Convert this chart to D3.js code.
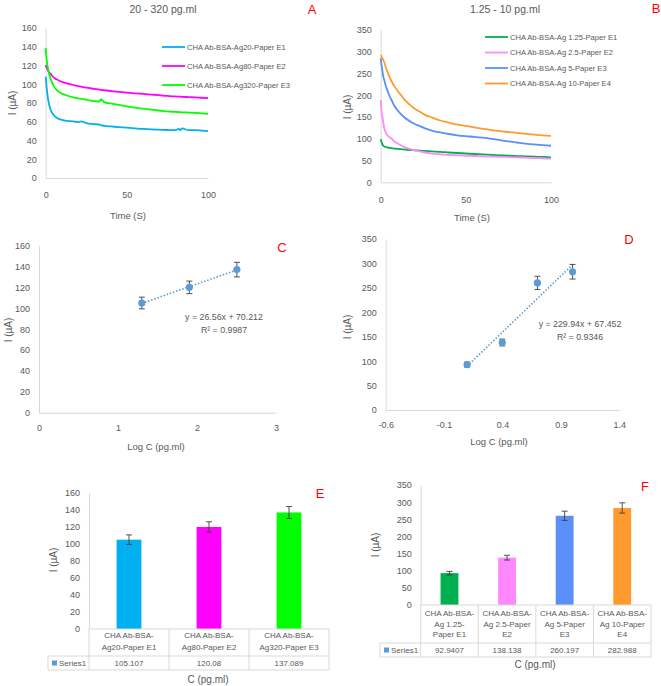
<!DOCTYPE html>
<html>
<head>
<meta charset="utf-8">
<script src="https://cdn.jsdelivr.net/npm/d3@7"></script>
<style>
  body { margin: 0; background: #fff; }
  svg text { font-family: "Liberation Sans", Arial, sans-serif; }
</style>
</head>
<body>
<div id="chart"></div>
<script>
// ---- panel A : current vs time, 20 - 320 pg.ml ----
const timeA = [0, 0.5, 1, 2, 3, 5, 7, 10, 13, 17, 20, 22, 25, 30, 33, 34, 36, 40, 45, 50, 55, 60, 65, 70, 75, 80, 82, 83, 84, 88, 92, 96, 100];
const aE1 = [108, 98, 90, 79, 73, 67, 64, 62, 61, 60.5, 59.5, 60.5, 58.5, 57.5, 57, 56.5, 55.5, 55, 54.3, 53.7, 53, 52.3, 51.8, 51.5, 51.2, 51, 52.3, 51, 53, 51, 51, 50.5, 50];
const aE2 = [120.5, 118, 116, 113, 111, 107, 105, 102.5, 101, 99.2, 98, 97.3, 96.3, 95, 94.2, 94, 93.6, 92.8, 91.8, 91, 90.3, 89.7, 89, 88.3, 87.5, 87, 86.8, 86.7, 86.6, 86.3, 86, 85.6, 85.3];
const aE3 = [138.5, 128, 121, 112, 106, 98, 93.5, 90, 88, 86, 85, 84.5, 83.5, 82, 81.5, 84, 81, 79.5, 78, 76.5, 75, 74, 73, 72, 71, 70.5, 70.3, 70.2, 70.1, 69.8, 69.5, 69, 68.5];
const namesA = ["CHA Ab-BSA-Ag20-Paper E1", "CHA Ab-BSA-Ag80-Paper E2", "CHA Ab-BSA-Ag320-Paper E3"];
const colorsA = ["#00B0F0", "#FF00FF", "#00FF00"];

// ---- panel B : current vs time, 1.25 - 10 pg.ml ----
const timeB = [0, 0.5, 1, 1.5, 2, 3, 4, 5, 6.5, 8, 10, 12, 14, 16, 18, 20, 23, 26, 30, 35, 40, 45, 50, 55, 60, 65, 70, 75, 80, 85, 90, 95, 100];
const bE1 = [98.8, 92, 87, 84, 82.5, 81, 80, 79, 78.3, 77.5, 76.8, 76, 75.3, 74.5, 74, 73.5, 72.8, 72, 71, 70, 68.5, 67.3, 66.2, 65, 64, 63, 62, 61, 60.3, 59.5, 58.8, 58.2, 57.5];
const bE2 = [189, 162, 151, 138, 126, 114, 108, 104, 100, 94, 89, 84.5, 81, 78, 75.5, 73.5, 71, 68.5, 66, 64.3, 63, 62, 61, 60.4, 59.8, 59.2, 58.6, 58, 57.4, 56.6, 55.8, 55, 54.2];
const bE3 = [285, 270, 256, 243, 236, 222, 210, 200, 188, 176, 165, 156, 149, 143, 138, 134, 129, 124, 119, 114.5, 111, 108, 106, 104.5, 102.5, 100, 97, 94, 91.5, 89, 87, 85.5, 84];
const bE4 = [292.5, 289, 285, 281, 277, 264, 254, 244, 231, 221, 210, 200, 190, 182, 175, 169, 162, 155, 149, 142, 137, 132.5, 129.5, 126, 123, 120, 117.5, 115.5, 113.5, 111.5, 109.5, 108, 106.5];
const namesB = ["CHA Ab-BSA-Ag 1.25-Paper E1", "CHA Ab-BSA-Ag 2.5-Paper E2", "CHA Ab-BSA-Ag 5-Paper E3", "CHA Ab-BSA-Ag 10-Paper E4"];
const colorsB = ["#00B050", "#FF88FF", "#5B8FF9", "#FF9A2E"];

// ---- panels C / E : calibration 20 - 320 ----
const logC_C = [1.301, 1.903, 2.505];
const mean_C = [105.107, 120.08, 137.089];
const err_C = [5.6, 6, 7];
const fitC = { m: 26.56, b: 70.212, eq: "y = 26.56x + 70.212", r2: "R² = 0.9987" };
const catsE = [["CHA Ab-BSA-", "Ag20-Paper E1"], ["CHA Ab-BSA-", "Ag80-Paper E2"], ["CHA Ab-BSA-", "Ag320-Paper E3"]];

// ---- panels D / F : calibration 1.25 - 10 ----
const logC_D = [0.097, 0.398, 0.699, 1.0];
const mean_D = [92.9407, 138.138, 260.197, 282.988];
const err_D = [5, 7, 13.5, 15];
const fitD = { m: 229.94, b: 67.452, eq: "y = 229.94x + 67.452", r2: "R² = 0.9346" };
const catsF = [["CHA Ab-BSA-", "Ag 1.25-", "Paper E1"], ["CHA Ab-BSA-", "Ag 2.5-Paper", "E2"], ["CHA Ab-BSA-", "Ag 5-Paper", "E3"], ["CHA Ab-BSA-", "Ag 10-Paper", "E4"]];

const ticksC_x = [0, 1, 2, 3];
const ticksD_x = [-0.6, -0.1, 0.4, 0.9, 1.4];

const txt = "#595959", lineCol = "#D9D9D9", ptCol = "#5B9BD5", errCol = "#404040";

const svg = d3.select("#chart").append("svg")
  .attr("width", 661).attr("height", 686);

function label(x, y, s, size, opts = {}) {
  const t = svg.append("text")
    .attr("x", x).attr("y", y)
    .attr("text-anchor", opts.anchor || "middle")
    .attr("dominant-baseline", "central")
    .attr("font-size", size)
    .attr("fill", opts.fill || txt)
    .text(s);
  if (opts.rotate) t.attr("transform", `rotate(-90, ${x}, ${y})`);
  return t;
}

function axes(x, y, xTicks, yTicks, xPad, xFmt) {
  const gy = svg.append("g")
    .attr("transform", `translate(${x.range()[0]},0)`)
    .call(d3.axisLeft(y).tickValues(yTicks).tickSize(0).tickPadding(9));
  gy.select(".domain").attr("stroke", lineCol);
  gy.selectAll("text").attr("fill", txt).attr("font-size", 9);
  if (xTicks) {
    const gx = svg.append("g")
      .attr("transform", `translate(0,${y.range()[0]})`)
      .call(d3.axisBottom(x).tickValues(xTicks).tickSize(0).tickPadding(xPad).tickFormat(xFmt || (d => String(d))));
    gx.select(".domain").attr("stroke", lineCol);
    gx.selectAll("text").attr("fill", txt).attr("font-size", 9);
  }
}

// ---------- A ----------
{
  const x = d3.scaleLinear().domain([0, 100]).range([45.7, 208]);
  const y = d3.scaleLinear().domain([0, 160]).range([178, 28]);
  axes(x, y, [0, 50, 100], d3.range(0, 161, 20), 14);
  const line = d3.line().x((d, i) => x(timeA[i])).y(d => y(d)).curve(d3.curveMonotoneX);
  [aE1, aE2, aE3].forEach((s, i) => {
    svg.append("path").datum(s).attr("d", line)
      .attr("fill", "none").attr("stroke", colorsA[i]).attr("stroke-width", 1.8);
  });
  namesA.forEach((n, i) => {
    const ly = 47 + i * 19;
    svg.append("line").attr("x1", 162).attr("x2", 185).attr("y1", ly).attr("y2", ly)
      .attr("stroke", colorsA[i]).attr("stroke-width", 1.8);
    label(187, ly, n, 7.6, { anchor: "start" });
  });
  label(163, 9, "20 - 320 pg.ml", 10.5);
  label(312, 9, "A", 13, { fill: "#FF0000" });
  label(12, 103, "I (µA)", 10, { rotate: true });
  label(128, 215, "Time (S)", 9.5);
}

// ---------- B ----------
{
  const x = d3.scaleLinear().domain([0, 100]).range([380.7, 551]);
  const y = d3.scaleLinear().domain([0, 350]).range([182.3, 30]);
  axes(x, y, [0, 50, 100], d3.range(0, 351, 50), 14);
  const line = d3.line().x((d, i) => x(timeB[i])).y(d => y(d)).curve(d3.curveMonotoneX);
  [bE1, bE2, bE3, bE4].forEach((s, i) => {
    svg.append("path").datum(s).attr("d", line)
      .attr("fill", "none").attr("stroke", colorsB[i]).attr("stroke-width", 1.8);
  });
  namesB.forEach((n, i) => {
    const ly = 37 + i * 15.5;
    svg.append("line").attr("x1", 485).attr("x2", 508).attr("y1", ly).attr("y2", ly)
      .attr("stroke", colorsB[i]).attr("stroke-width", 1.8);
    label(510, ly, n, 7.6, { anchor: "start" });
  });
  label(505, 9, "1.25 - 10 pg.ml", 10.5);
  label(656, 8, "B", 13, { fill: "#FF0000" });
  label(347, 107, "I (µA)", 10, { rotate: true });
  label(472, 217, "Time (S)", 9.5);
}

// ---------- scatter helper (C, D) ----------
function scatter(x, y, xs, ms, es, fit) {
  const capW = 3;
  svg.append("line")
    .attr("x1", x(xs[0])).attr("x2", x(xs[xs.length - 1]))
    .attr("y1", y(fit.m * xs[0] + fit.b)).attr("y2", y(fit.m * xs[xs.length - 1] + fit.b))
    .attr("stroke", ptCol).attr("stroke-width", 1.6).attr("stroke-dasharray", "1.5,1.8");
  const g = svg.append("g").selectAll("g").data(ms).enter().append("g");
  g.append("line").attr("x1", (d, i) => x(xs[i])).attr("x2", (d, i) => x(xs[i]))
    .attr("y1", (d, i) => y(d - es[i])).attr("y2", (d, i) => y(d + es[i]))
    .attr("stroke", errCol).attr("stroke-width", 0.9);
  [-1, 1].forEach(sg => {
    g.append("line").attr("x1", (d, i) => x(xs[i]) - capW).attr("x2", (d, i) => x(xs[i]) + capW)
      .attr("y1", (d, i) => y(d + sg * es[i])).attr("y2", (d, i) => y(d + sg * es[i]))
      .attr("stroke", errCol).attr("stroke-width", 0.9);
  });
  g.append("circle").attr("cx", (d, i) => x(xs[i])).attr("cy", d => y(d))
    .attr("r", 3.6).attr("fill", ptCol);
}

// ---------- C ----------
{
  const x = d3.scaleLinear().domain([0, 3]).range([39, 276]);
  const y = d3.scaleLinear().domain([0, 160]).range([412.7, 245.7]);
  axes(x, y, ticksC_x, d3.range(0, 161, 20), 11.5);
  scatter(x, y, logC_C, mean_C, err_C, fitC);
  label(224, 317, fitC.eq, 8.8);
  label(224, 330, fitC.r2, 8.8);
  label(282, 247, "C", 13, { fill: "#FF0000" });
  label(8, 330, "I (µA)", 10, { rotate: true });
  label(156, 446, "Log C (pg.ml)", 9.5);
}

// ---------- D ----------
{
  const x = d3.scaleLinear().domain([-0.6, 1.4]).range([385.7, 619.3]);
  const y = d3.scaleLinear().domain([0, 350]).range([410, 239]);
  axes(x, y, ticksD_x, d3.range(0, 351, 50), 12, d => d.toFixed(1));
  scatter(x, y, logC_D, mean_D, err_D, fitD);
  label(580, 324, fitD.eq, 8.8);
  label(580, 337, fitD.r2, 8.8);
  label(629, 239, "D", 13, { fill: "#FF0000" });
  label(347, 327, "I (µA)", 10, { rotate: true });
  label(499, 441, "Log C (pg.ml)", 9.5);
}

// ---------- bar + data table helper (E, F) ----------
function barTable(o) {
  const x = d3.scaleBand().domain(d3.range(o.values.length)).range(o.xr);
  const y = d3.scaleLinear().domain([0, o.ymax]).range(o.yr);
  axes(x, y, null, d3.range(0, o.ymax + 1, o.step), 0);
  const bw = x.bandwidth() * 0.31;
  svg.append("g").selectAll("rect").data(o.values).enter().append("rect")
    .attr("x", (d, i) => x(i) + (x.bandwidth() - bw) / 2)
    .attr("y", d => y(d)).attr("width", bw).attr("height", d => y(0) - y(d))
    .attr("fill", (d, i) => o.colors[i]);
  const cap = 3;
  const eg = svg.append("g").selectAll("g").data(o.values).enter().append("g");
  eg.append("line").attr("x1", (d, i) => x(i) + x.bandwidth() / 2).attr("x2", (d, i) => x(i) + x.bandwidth() / 2)
    .attr("y1", (d, i) => y(d - o.err[i])).attr("y2", (d, i) => y(d + o.err[i]))
    .attr("stroke", errCol).attr("stroke-width", 0.9);
  [-1, 1].forEach(sg => {
    eg.append("line").attr("x1", (d, i) => x(i) + x.bandwidth() / 2 - cap).attr("x2", (d, i) => x(i) + x.bandwidth() / 2 + cap)
      .attr("y1", (d, i) => y(d + sg * o.err[i])).attr("y2", (d, i) => y(d + sg * o.err[i]))
      .attr("stroke", errCol).attr("stroke-width", 0.9);
  });
  // data table under the bars
  const y0 = y(0), [xl, xr] = o.xr;
  const t = svg.append("g").attr("stroke", lineCol).attr("stroke-width", 1);
  t.append("line").attr("x1", xl).attr("x2", xr).attr("y1", y0).attr("y2", y0);
  t.append("line").attr("x1", o.keyX).attr("x2", xr).attr("y1", o.rowY).attr("y2", o.rowY);
  t.append("line").attr("x1", o.keyX).attr("x2", xr).attr("y1", o.botY).attr("y2", o.botY);
  t.append("line").attr("x1", o.keyX).attr("x2", o.keyX).attr("y1", o.rowY).attr("y2", o.botY);
  d3.range(o.values.length + 1).forEach(i => {
    const vx = i < o.values.length ? x(i) : xr;
    t.append("line").attr("x1", vx).attr("x2", vx).attr("y1", y0).attr("y2", o.botY);
  });
  o.cats.forEach((lines, i) => {
    lines.forEach((s, k) => label(x(i) + x.bandwidth() / 2, o.catY[k], s, 8));
    label(x(i) + x.bandwidth() / 2, (o.rowY + o.botY) / 2, o.labels[i], 8);
  });
  svg.append("rect").attr("x", o.keyX + 4).attr("y", (o.rowY + o.botY) / 2 - 2.5)
    .attr("width", 5).attr("height", 5).attr("fill", ptCol);
  label(o.keyX + 11, (o.rowY + o.botY) / 2, "Series1", 8, { anchor: "start" });
}

// ---------- E ----------
barTable({
  values: mean_C, err: err_C, colors: colorsA, cats: catsE,
  labels: ["105.107", "120.08", "137.089"],
  xr: [89, 329], yr: [629, 493], ymax: 160, step: 20,
  keyX: 48, rowY: 656, botY: 670, catY: [635, 647]
});
label(320, 493, "E", 13, { fill: "#FF0000" });
label(53, 560, "I (µA)", 10, { rotate: true });
label(208, 679, "C (pg.ml)", 10);

// ---------- F ----------
barTable({
  values: mean_D, err: err_D, colors: colorsB, cats: catsF,
  labels: ["92.9407", "138.138", "260.197", "282.988"],
  xr: [420.7, 651], yr: [605, 485], ymax: 350, step: 50,
  keyX: 380, rowY: 643, botY: 657, catY: [613, 624, 634]
});
label(645, 486, "F", 13, { fill: "#FF0000" });
label(375, 545, "I (µA)", 10, { rotate: true });
label(535, 664, "C (pg.ml)", 10);
</script>
</body>
</html>
